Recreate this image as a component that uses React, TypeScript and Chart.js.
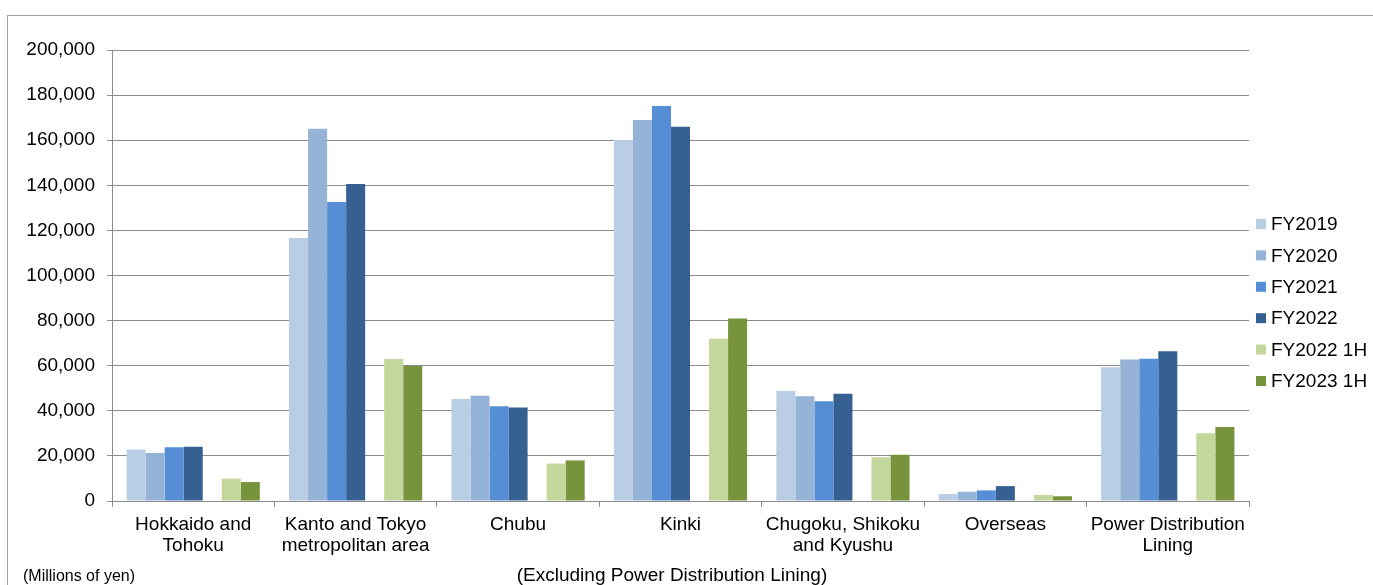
import React, { useEffect, useRef } from "react";
import { Chart, registerables } from "chart.js";

Chart.register(...registerables);

const categories: string[][] = [
  ["Hokkaido and", "Tohoku"],
  ["Kanto and Tokyo", "metropolitan area"],
  ["Chubu"],
  ["Kinki"],
  ["Chugoku, Shikoku", "and Kyushu"],
  ["Overseas"],
  ["Power Distribution", "Lining"],
];

const fy2019 = [22800, 116600, 45200, 160100, 48800, 3100, 59300];
const fy2020 = [21300, 165100, 46700, 169000, 46400, 4100, 62800];
const fy2021 = [23800, 132600, 42000, 175200, 44200, 4700, 63100];
const fy2022 = [24100, 140600, 41500, 166000, 47600, 6600, 66400];
const gapSeries = [null, null, null, null, null, null, null];
const fy2022h1 = [9900, 63000, 16600, 72000, 19400, 2700, 30000];
const fy2023h1 = [8400, 59900, 18000, 80900, 20500, 2100, 32800];

const seriesLabels = ["FY2019", "FY2020", "FY2021", "FY2022", "", "FY2022 1H", "FY2023 1H"];
const seriesColors = ["#B9CDE5", "#95B3D7", "#558ED5", "#376092", "rgba(0,0,0,0)", "#C3D69B", "#77933C"];

const yTicks = [0, 20000, 40000, 60000, 80000, 100000, 120000, 140000, 160000, 180000, 200000];

const FONT = "'Liberation Sans', Arial, sans-serif";

const legendPlugin = {
  id: "customLegend",
  afterDraw(chart: any) {
    const ctx = chart.ctx;
    ctx.save();
    ctx.font = `19px ${FONT}`;
    ctx.textBaseline = "middle";
    ctx.textAlign = "left";
    let i = 0;
    chart.data.datasets.forEach((ds: any) => {
      if (!ds.label) return;
      const cy = 224 + i * 31.4;
      ctx.fillStyle = ds.backgroundColor;
      ctx.fillRect(1256, cy - 5, 10, 10);
      ctx.fillStyle = "#000";
      ctx.fillText(ds.label, 1271, cy + 1);
      i++;
    });
    ctx.restore();
  },
};

export default function App() {
  const ref = useRef<HTMLCanvasElement | null>(null);

  useEffect(() => {
    if (!ref.current) return;
    const data = [fy2019, fy2020, fy2021, fy2022, gapSeries, fy2022h1, fy2023h1];
    const chart = new Chart(ref.current, {
      type: "bar",
      data: {
        labels: categories,
        datasets: data.map((d, i) => ({
          label: seriesLabels[i],
          data: d as any,
          backgroundColor: seriesColors[i],
          borderWidth: 0,
          categoryPercentage: 0.82,
          barPercentage: 1,
        })),
      },
      options: {
        animation: false,
        responsive: false,
        layout: { padding: { left: 0, right: 124, top: 50, bottom: 0 } },
        plugins: {
          legend: { display: false },
          tooltip: { enabled: false },
        },
        scales: {
          x: {
            grid: {
              display: true,
              drawOnChartArea: false,
              drawTicks: true,
              tickLength: 6,
              color: "#8C8C8C",
              offset: true,
            },
            border: { display: true, color: "#8C8C8C" },
            ticks: {
              color: "#000",
              font: { family: FONT, size: 19, lineHeight: 1.13 },
              padding: 7,
              maxRotation: 0,
              autoSkip: false,
            },
            afterFit(scale: any) {
              scale.height = 84;
            },
          },
          y: {
            min: 0,
            max: 200000,
            afterBuildTicks(scale: any) {
              scale.ticks = yTicks.map((v) => ({ value: v }));
            },
            grid: {
              color: "#8C8C8C",
              tickLength: 5,
              drawTicks: true,
            },
            border: { display: true, color: "#8C8C8C" },
            ticks: {
              color: "#000",
              font: { family: FONT, size: 19 },
              padding: 12,
              callback: (v: any) => Number(v).toLocaleString("en-US"),
            },
            afterFit(scale: any) {
              scale.width = 112;
            },
          },
        },
      },
      plugins: [legendPlugin],
    });
    return () => chart.destroy();
  }, []);

  return (
    <div style={{ position: "absolute", left: 0, top: 0, width: 1373, height: 585, background: "#fff", overflow: "hidden" }}>
      <div
        style={{
          position: "absolute",
          left: 7,
          top: 15,
          width: 1373 - 7,
          height: 585 - 15,
          borderLeft: "1px solid #A0A0A0",
          borderTop: "1px solid #A0A0A0",
          boxSizing: "border-box",
        }}
      />
      <canvas ref={ref} width={1373} height={585} style={{ position: "absolute", left: 0, top: 0 }} />
      <div
        style={{
          position: "absolute",
          left: 23,
          top: 566,
          fontFamily: FONT,
          fontSize: 16,
          lineHeight: "19px",
          color: "#000",
          whiteSpace: "nowrap",
        }}
      >
        (Millions of yen)
      </div>
      <div
        style={{
          position: "absolute",
          left: 672,
          top: 564,
          transform: "translateX(-50%)",
          fontFamily: FONT,
          fontSize: 19,
          lineHeight: "22px",
          color: "#000",
          whiteSpace: "nowrap",
        }}
      >
        (Excluding Power Distribution Lining)
      </div>
    </div>
  );
}
